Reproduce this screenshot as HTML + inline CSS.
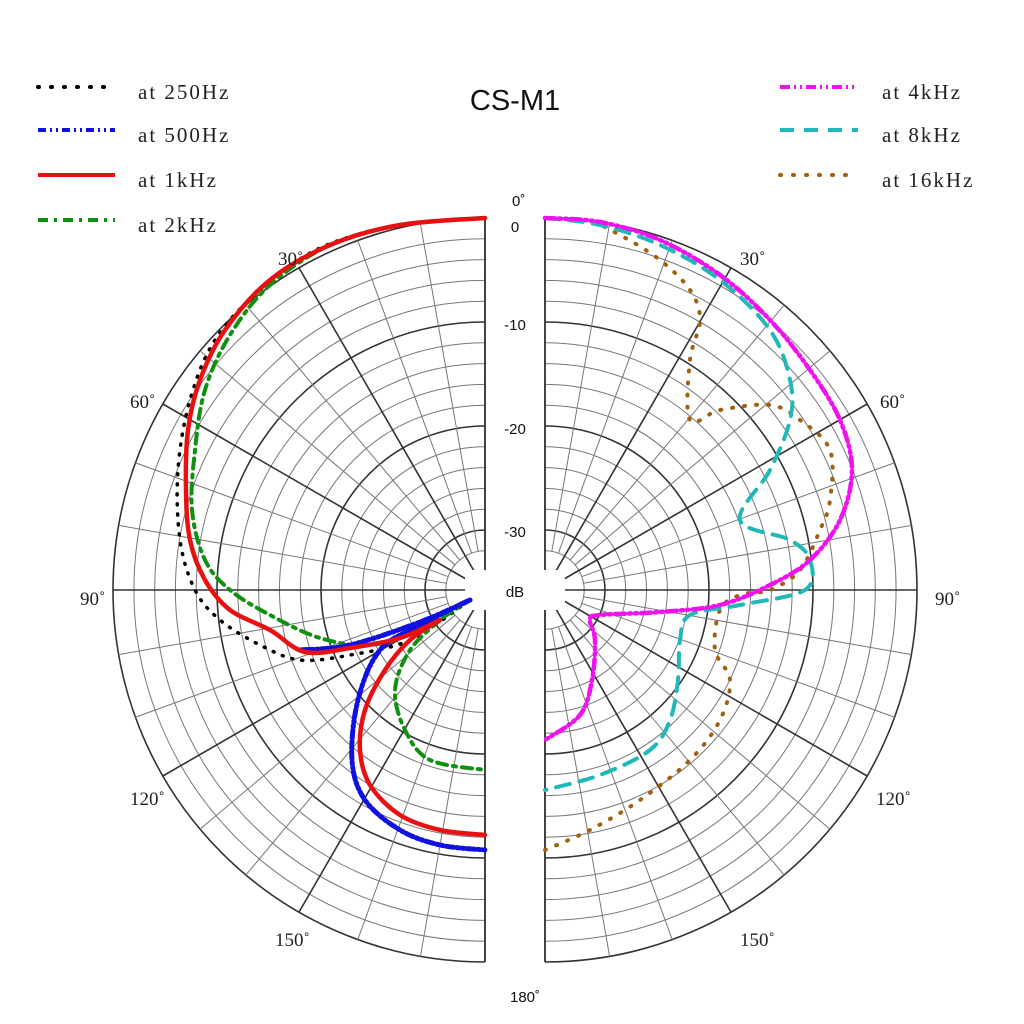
<!DOCTYPE html>
<html><head><meta charset="utf-8"><style>
html,body{margin:0;padding:0;background:#fff;}
svg{display:block}
text{font-family:"Liberation Serif",serif;font-size:21px;fill:#222;letter-spacing:2px}
.s{font-family:"Liberation Sans",sans-serif;font-size:15px;fill:#111;letter-spacing:0}
.a{letter-spacing:0;font-size:19px}
</style></head><body>
<svg id="g" width="1024" height="1024" xmlns="http://www.w3.org/2000/svg">
<rect width="1024" height="1024" fill="#fff"/>
<g id="grid"></g>
<g id="curves" fill="none" stroke-linejoin="round" stroke-linecap="round"></g>
<text x="515" y="110" text-anchor="middle" style="font-family:'Liberation Sans',sans-serif;font-size:29px;fill:#111;letter-spacing:0">CS-M1</text>
<g stroke-width="4">
<line x1="38" y1="87" x2="115" y2="87" stroke="#000" stroke-dasharray="1 12" stroke-linecap="round"/>
<line x1="38" y1="130" x2="115" y2="130" stroke="#1010e0" stroke-dasharray="8 4 2 4 2 4"/>
<line x1="38" y1="175" x2="115" y2="175" stroke="#e81010"/>
<line x1="38" y1="220" x2="115" y2="220" stroke="#109010" stroke-dasharray="10 6 3 6"/>
<line x1="780" y1="87" x2="858" y2="87" stroke="#f010f0" stroke-dasharray="10 4 2 4 2 4"/>
<line x1="780" y1="130" x2="858" y2="130" stroke="#20b8b8" stroke-dasharray="14 10"/>
<line x1="780" y1="175" x2="858" y2="175" stroke="#a06010" stroke-dasharray="1 12" stroke-linecap="round"/>
</g>
<text x="138" y="99">at 250Hz</text><text x="138" y="142">at 500Hz</text>
<text x="138" y="187">at 1kHz</text><text x="138" y="232">at 2kHz</text>
<text x="882" y="99">at 4kHz</text><text x="882" y="142">at 8kHz</text>
<text x="882" y="187">at 16kHz</text>
<text class="s" x="512" y="206">0˚</text>
<text class="s" x="515" y="232" text-anchor="middle">0</text>
<text class="s" x="515" y="330" text-anchor="middle">-10</text>
<text class="s" x="515" y="434" text-anchor="middle">-20</text>
<text class="s" x="515" y="537" text-anchor="middle">-30</text>
<text class="s" x="515" y="597" text-anchor="middle">dB</text>
<text class="s" x="510" y="1002">180˚</text>
<text class="a" x="278" y="265">30˚</text><text class="a" x="130" y="408">60˚</text><text class="a" x="80" y="605">90˚</text>
<text class="a" x="130" y="805">120˚</text><text class="a" x="275" y="946">150˚</text>
<text class="a" x="740" y="265">30˚</text><text class="a" x="880" y="408">60˚</text><text class="a" x="935" y="605">90˚</text>
<text class="a" x="876" y="805">120˚</text><text class="a" x="740" y="946">150˚</text>
</svg>
<script>
var NS="http://www.w3.org/2000/svg",G=document.getElementById("grid"),C=document.getElementById("curves");
function el(t,a,p){var e=document.createElementNS(NS,t);for(var k in a)e.setAttribute(k,a[k]);(p||G).appendChild(e);return e;}
var cy=590,R=372,sides=[[485,-1],[545,1]];
sides.forEach(function(s){var cx=s[0],d=s[1];
 for(var db=0;db<=32;db+=2){var r=R-10.4*db,maj=db%10==0;
  el("path",{d:"M"+cx+","+(cy-r)+" A"+r+","+r+" 0 0 "+(d>0?1:0)+" "+cx+","+(cy+r),fill:"none",stroke:maj?"#333":"#777",
  "stroke-width":maj?1.6:1});}
 for(var a=0;a<=180;a+=10){var t=a*Math.PI/180,maj=a%30==0,r0=maj?20:39;
  el("line",{x1:cx+d*r0*Math.sin(t),y1:cy-r0*Math.cos(t),x2:cx+d*R*Math.sin(t),y2:cy-R*Math.cos(t),stroke:maj?"#333":"#777","stroke-width":maj?1.6:1});}
 el("line",{x1:cx,y1:cy-R,x2:cx,y2:cy+R,stroke:"#333","stroke-width":1.6});
});
el("rect",{x:486,y:200,width:58,height:780,fill:"#fff"});
el("ellipse",{cx:515,cy:590,rx:50,ry:20,fill:"#fff"});
el("rect",{x:465,y:570,width:100,height:40,fill:"#fff"});
el("circle",{cx:485,cy:590,r:19,fill:"#fff"});el("circle",{cx:545,cy:590,r:19,fill:"#fff"});
function P(pts,st,w,da,cap){var d="M"+pts[0].join(",");
 for(var i=0;i<pts.length-1;i++){var p0=pts[i-1]||pts[i],p1=pts[i],p2=pts[i+1],p3=pts[i+2]||p2,k=0.5/3;
  d+=" C"+(p1[0]+(p2[0]-p0[0])*k)+","+(p1[1]+(p2[1]-p0[1])*k)+" "+(p2[0]-(p3[0]-p1[0])*k)+","+(p2[1]-(p3[1]-p1[1])*k)+" "+p2[0]+","+p2[1];}
 var a={d:d,stroke:st,"stroke-width":w};if(da)a["stroke-dasharray"]=da;if(cap)a["stroke-linecap"]=cap;el("path",a,C);}
P([[485,218],[400,225],[320,248],[260,290],[215,340],[190,400],[178,470],[180,540],[195,590],[220,620],[260,645],[300,660],[350,655],[410,640],[470,600]],"#000",3.5,"1 9","round");
P([[485,218],[400,225],[330,245],[270,285],[230,335],[205,390],[195,450],[192,510],[205,560],[230,590],[270,615],[320,638],[370,645],[420,630],[470,600]],"#109010",4,"10 6 3 6");
P([[440,620],[410,650],[395,690],[405,730],[430,760],[485,770]],"#109010",4,"10 6 3 6");
P([[300,650],[350,645],[420,622],[470,600]],"#1010e0",5,"8 3 2 3 2 3");
P([[470,600],[420,625],[380,650],[358,700],[352,760],[365,800],[400,830],[440,845],[485,850]],"#1010e0",5,"8 3 2 3 2 3");
P([[485,218],[400,225],[330,245],[270,280],[225,330],[200,380],[188,430],[186,490],[190,540],[205,580],[230,610],[270,630],[305,652],[350,648],[400,638],[440,620]],"#e81010",4.5);
P([[440,620],[410,640],[385,670],[365,710],[360,750],[370,785],[400,815],[440,830],[485,835]],"#e81010",4.5);
P([[545,218],[590,222],[620,235],[660,260],[690,290],[700,320],[690,360],[690,420],[720,410],[770,405],[800,420],[830,450],[830,500],[820,530],[800,570],[770,590],[740,595],[720,610],[715,650],[730,680],[720,720],[690,760],[640,800],[590,830],[545,850]],"#a06010",4,"1 11","round");
P([[545,218],[600,225],[660,245],[720,280],[770,330],[790,380],[790,420],[770,470],[740,520],[790,540],[810,560],[805,590],[740,605],[690,615],[680,640],[678,680],[670,720],[650,750],[600,775],[545,790]],"#20b8b8",4,"14 10");
P([[545,218],[600,222],[660,240],[720,275],[770,320],[810,370],[840,420],[852,470],[840,520],[810,560],[770,585],[720,605],[660,612],[600,615],[590,620],[595,640],[592,680],[580,715],[545,740]],"#f010f0",4.5,"10 4 2 4 2 4");
</script>
</body></html>
